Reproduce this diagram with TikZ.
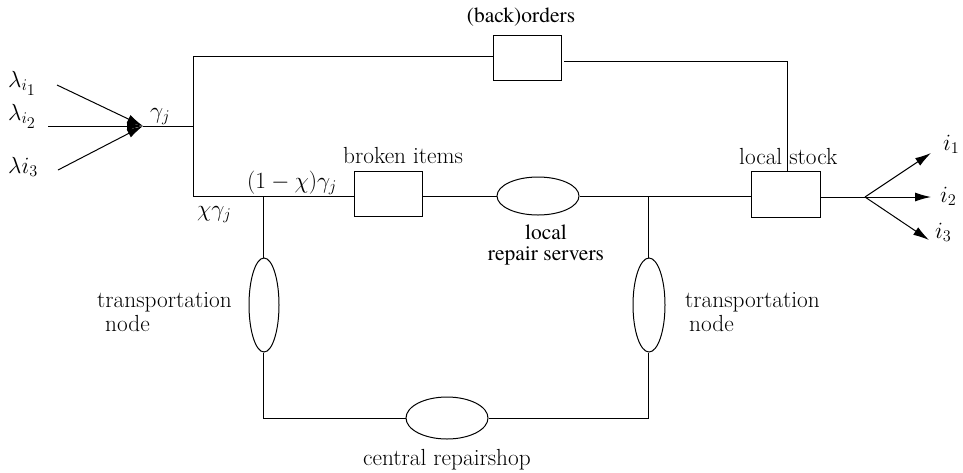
\documentclass[tikz,border=0pt]{standalone}
\usepackage{fix-cm}
\usepackage{fontspec}
\IfFontExistsTF{texgyretermes-regular.otf}
  {\newfontfamily\timesf{texgyretermes-regular.otf}}
  {\newfontfamily\timesf{Latin Modern Roman}}
\usetikzlibrary{arrows.meta,shapes.geometric}
\tikzset{
  lbl/.style={font=\fontsize{23.3}{28}\selectfont, inner sep=0pt, anchor=base west},
  tlbl/.style={font=\timesf\fontsize{21.5}{25}\selectfont, inner sep=0pt, anchor=base},
  boxn/.style={draw, line width=1pt, rectangle, minimum width=68pt, minimum height=45pt, inner sep=0pt},
  ell/.style={draw, line width=1pt, ellipse, inner sep=0pt},
  wire/.style={line width=1pt},
  arr/.style={wire, -{Latex[length=16pt,width=9pt]}}
}
\begin{document}
\begin{tikzpicture}[x=1pt,y=-1pt]
\useasboundingbox (0,0) rectangle (963,472);
% nodes
\node[boxn] (bo) at (527,57.5) {};
\node[boxn] (br) at (388,194) {};
\node[boxn, minimum width=69pt, minimum height=46pt] (ls) at (786,194) {};
\node[ell, minimum width=82pt, minimum height=38pt] (lr) at (538,196) {};
\node[ell, minimum width=30pt, minimum height=94pt] (tl) at (264,305) {};
\node[ell, minimum width=32pt, minimum height=94pt] (tr) at (649,305) {};
\node[ell, minimum width=82pt, minimum height=42pt] (cr) at (447,418) {};
% coordinates
\coordinate (g) at (143,126);
\coordinate (gj) at (193,126);
\coordinate (top) at (193,56);
\coordinate (ml) at (193,196);
\coordinate (jl) at (263,196);
\coordinate (jr) at (648,196);
\coordinate (bl) at (263,418);
\coordinate (brr) at (648,418);
\coordinate (bo2) at (564,61);
\coordinate (bc) at (787,61);
\coordinate (fan) at (865,197);
\coordinate (s1) at (57,85);
\coordinate (s2) at (48,126);
\coordinate (s3) at (58,170);
\coordinate (e1) at (931,153);
\coordinate (e2) at (931,197);
\coordinate (e3) at (929,240);
% wires
\draw[wire] (top) -- (bo.west |- top);
\draw[wire] (bo2) -- (bc) -- (ls.north -| bc);
\draw[wire] (top) -- (ml) -- (br.west |- ml);
\draw[wire] (g) -- (gj);
\draw[wire] (br.east |- lr) -- (lr.west);
\draw[wire] (lr.east) -- (ls.west |- lr);
\draw[wire] (ls.east |- fan) -- (fan);
\draw[wire] (jl) -- (jl |- tl.north);
\draw[wire] (jl |- tl.south) -- (bl) -- (cr.west);
\draw[wire] (cr.east) -- (brr) -- (brr |- tr.south);
\draw[wire] (jr |- tr.north) -- (jr);
\draw[arr] (s1) -- (g);
\draw[arr] (s2) -- (g);
\draw[arr] (s3) -- (g);
\draw[arr] (fan) -- (e1);
\draw[arr] (fan) -- (e2);
\draw[arr] (fan) -- (e3);
% labels
\node[lbl] (l1) at (8,87) {$\lambda_{i_{\scriptstyle 1}}$};
\node[lbl] (l2) at (8,120) {$\lambda_{i_{\scriptstyle 2}}$};
\node[lbl] (l3) at (8,173) {$\lambda i_3$};
\node[lbl] (gl) at (150,118) {$\gamma_j$};
\node[tlbl] (bol) at (521,22) {(back)orders};
\node[lbl] (brl) at (343,163) {broken items};
\node[lbl] (ox) at (247,188) {$(1-\chi)\gamma_j$};
\node[lbl] (xg) at (197,216) {$\chi\gamma_j$};
\node[lbl] (lsl) at (739,164) {local stock};
\node[font=\timesf\fontsize{21.5}{20.5}\selectfont, inner sep=0pt, align=center, anchor=center] (lrl) at (546,245) {local\\repair servers};
\node[lbl] (tll1) at (97,307) {transportation};
\node[lbl] (tll2) at (105,331) {node};
\node[lbl] (trl1) at (685,307) {transportation};
\node[lbl] (trl2) at (689,331) {node};
\node[lbl] (crl) at (363,465) {central repairshop};
\node[lbl] (i1) at (943,150) {$i_1$};
\node[lbl] (i2) at (940,202) {$i_2$};
\node[lbl] (i3) at (935,238) {$i_3$};
\end{tikzpicture}
\end{document}
